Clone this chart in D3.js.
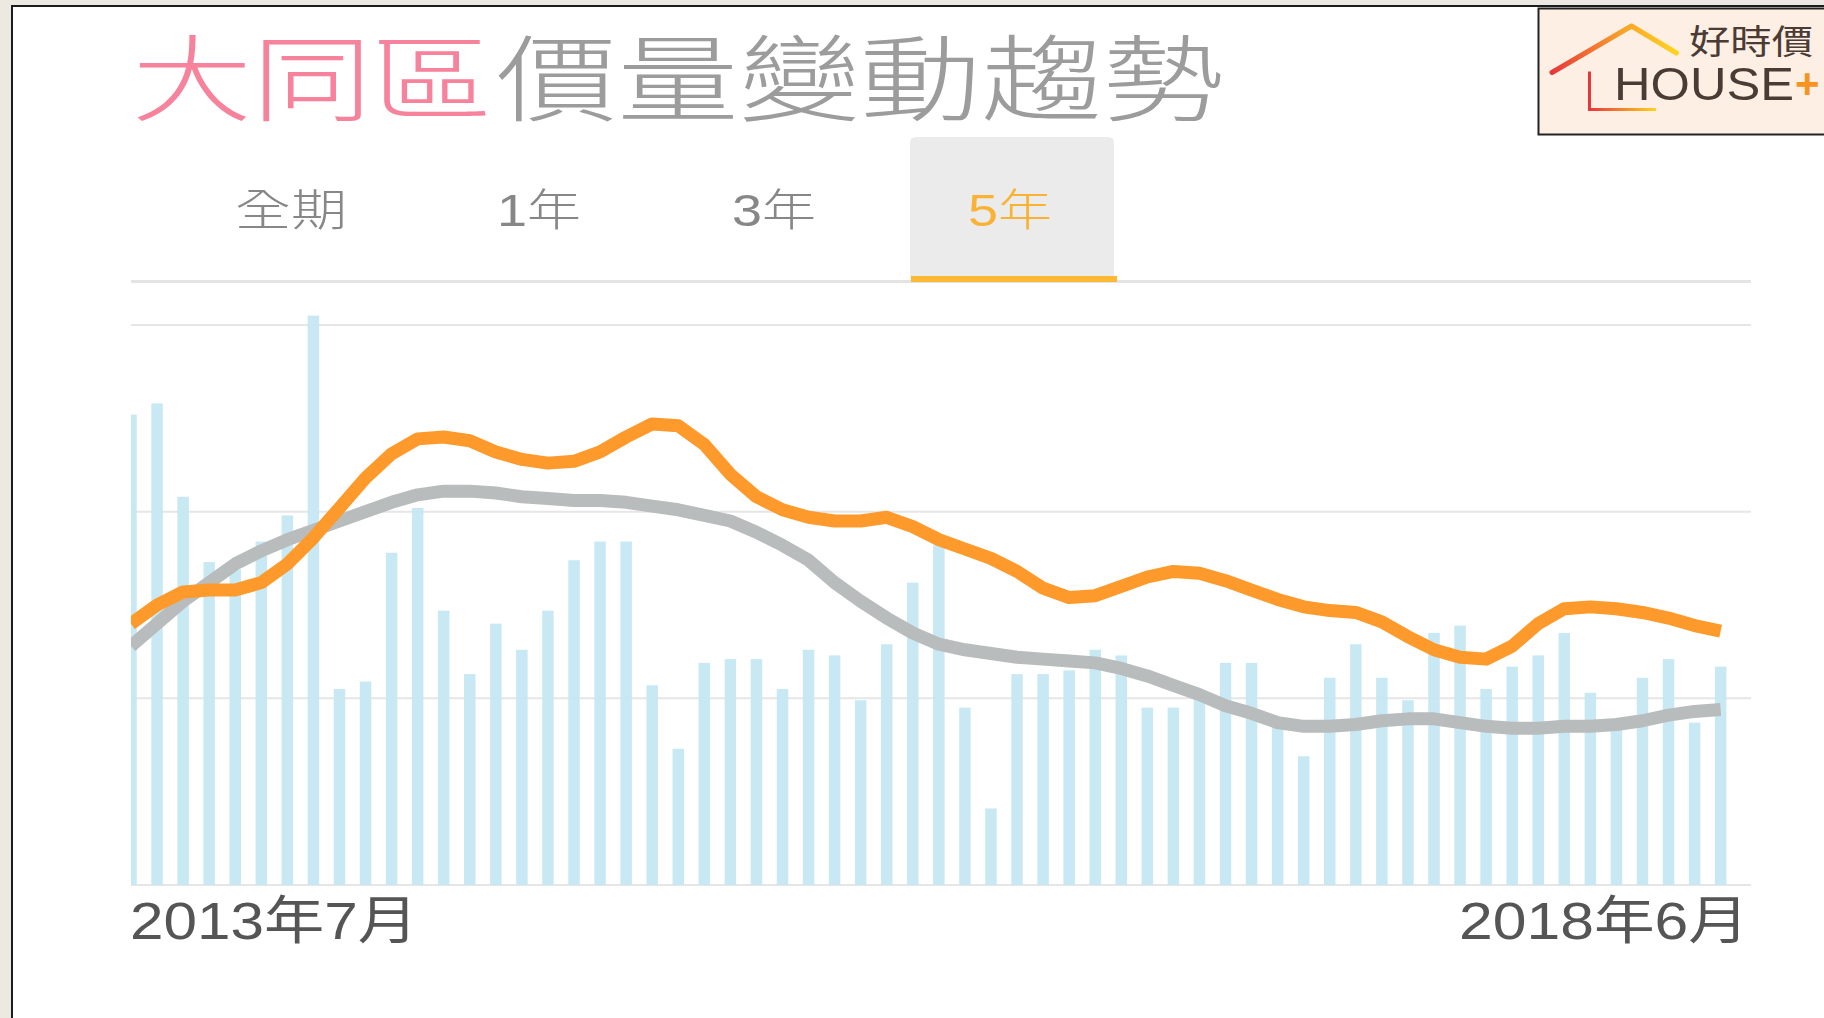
<!DOCTYPE html>
<html>
<head>
<meta charset="utf-8">
<script src="https://cdn.jsdelivr.net/npm/d3@7"></script>
<style>
  html, body { margin: 0; padding: 0; background: #fff; }
  svg { display: block; }
</style>
</head>
<body>
<div id="chart"></div>
<script>
// 大同區 價量變動趨勢 (5年)

const tabLabels = ['全期', '1年', '3年', '5年'];
const activeTab = '5年';
const tickLabels = ['2013年7月', '2018年6月'];

// monthly transaction count (bars)
const volume = [
  252, 258, 208, 173, 169, 184, 198, 305, 105, 109,
  178, 202, 147, 113, 140, 126, 147, 174, 184, 184,
  107, 73, 119, 121, 121, 105, 126, 123, 99, 129,
  162, 182, 95, 41, 113, 113, 115, 126, 123, 95,
  95, 100, 119, 119, 87, 69, 111, 129, 111, 99,
  135, 139, 105, 117, 123, 135, 103, 85, 111, 121,
  87, 117
];

// unit price, short average (orange)
const priceShort = [
  54.0, 55.0, 55.7, 55.8, 55.8, 56.2, 57.2, 58.6, 60.2, 61.8,
  63.1, 63.9, 64.0, 63.8, 63.2, 62.8, 62.6, 62.7, 63.2, 64.0,
  64.7, 64.6, 63.6, 62.0, 60.8, 60.1, 59.7, 59.5, 59.5, 59.7,
  59.2, 58.5, 58.0, 57.5, 56.8, 55.9, 55.4, 55.5, 56.0, 56.5,
  56.8, 56.7, 56.3, 55.8, 55.3, 54.9, 54.7, 54.6, 54.1, 53.3,
  52.6, 52.2, 52.1, 52.8, 54.0, 54.8, 54.9, 54.8, 54.6, 54.3,
  53.9, 53.6
];

// unit price, long average (gray)
const priceLong = [
  52.8, 54.0, 55.2, 56.2, 57.2, 57.9, 58.5, 59.0, 59.5, 60.0,
  60.5, 60.9, 61.1, 61.1, 61.0, 60.8, 60.7, 60.6, 60.6, 60.5,
  60.3, 60.1, 59.8, 59.5, 58.9, 58.2, 57.4, 56.2, 55.2, 54.3,
  53.5, 52.9, 52.6, 52.4, 52.2, 52.1, 52.0, 51.9, 51.6, 51.2,
  50.7, 50.2, 49.6, 49.2, 48.7, 48.5, 48.5, 48.6, 48.8, 48.9,
  48.9, 48.7, 48.5, 48.4, 48.4, 48.5, 48.5, 48.6, 48.8, 49.1,
  49.3, 49.4
];

const priceTicks = [40, 50, 60, 70];

const W = 1824, H = 1018;
const CJK = '"Noto Sans CJK TC", "Noto Sans CJK SC", sans-serif';
const LATIN = '"Liberation Sans", "Noto Sans CJK TC", sans-serif';

class TrendChart {
  constructor(node) {
    this.container = d3.select(node);
    this.setupVar();
    this.setupUtils();
  }

  setupVar() {
    this.left = 131;
    this.right = 1751;
    this.top = 325;
    this.bottom = 885;
    this.step = 26.06;
    this.barWidth = 11.5;
  }

  setupUtils() {
    this.x = d3.scaleLinear()
      .domain([0, volume.length - 1])
      .range([this.left, this.left + (volume.length - 1) * this.step]);
    this.yVol = d3.scaleLinear().domain([0, 300]).range([this.bottom, this.top]);
    this.yPrice = d3.scaleLinear().domain([40, 70]).range([this.bottom, this.top]);
  }

  drawFrame() {
    const svg = this.svg;
    svg.append('rect').attr('width', W).attr('height', H).attr('fill', '#fff');
    svg.append('rect').attr('width', W).attr('height', 6).attr('fill', '#ece9e2');
    svg.append('rect').attr('width', 11).attr('height', H).attr('fill', '#ece9e2');
    svg.append('rect').attr('x', 11).attr('y', 5).attr('width', W).attr('height', 2).attr('fill', '#1c1c1c');
    svg.append('rect').attr('x', 11).attr('y', 5).attr('width', 2).attr('height', H).attr('fill', '#1c1c1c');
  }

  drawTitle() {
    const svg = this.svg;
    svg.append('text')
      .attr('x', 132).attr('y', 114)
      .attr('font-family', CJK).attr('font-size', 94).attr('font-weight', 300)
      .attr('fill', '#f7829c')
      .attr('textLength', 360).attr('lengthAdjust', 'spacingAndGlyphs')
      .text('大同區');
    svg.append('text')
      .attr('x', 496).attr('y', 114)
      .attr('font-family', CJK).attr('font-size', 94).attr('font-weight', 300)
      .attr('fill', '#9c9c9c')
      .attr('textLength', 728).attr('lengthAdjust', 'spacingAndGlyphs')
      .text('價量變動趨勢');
  }

  drawTabs() {
    const svg = this.svg;
    // positions of each tab label (left edge, width)
    const tabX = [235, 497, 732, 968];
    const tabLen = [112, 84, 84, 84];

    svg.append('rect')
      .attr('x', 131).attr('y', 280).attr('width', this.right - 131).attr('height', 3)
      .attr('fill', '#e4e4e4');

    const i = tabLabels.indexOf(activeTab);
    svg.append('path')
      .attr('d', 'M910,279 V143 Q910,137 916,137 H1108 Q1114,137 1114,143 V279 Z')
      .attr('fill', '#ebebeb');
    svg.append('rect')
      .attr('x', 911).attr('y', 276).attr('width', 206).attr('height', 6)
      .attr('fill', '#fbb833');

    svg.selectAll('text.tab')
      .data(tabLabels)
      .enter().append('text')
      .attr('class', 'tab')
      .attr('x', (d, k) => tabX[k]).attr('y', 226)
      .attr('font-family', LATIN).attr('font-size', 44).attr('font-weight', 300)
      .attr('fill', (d, k) => k === i ? '#f9b234' : '#878787')
      .attr('textLength', (d, k) => tabLen[k]).attr('lengthAdjust', 'spacingAndGlyphs')
      .text(d => d);
  }

  drawLogo() {
    const svg = this.svg;
    const defs = svg.append('defs');
    const g1 = defs.append('linearGradient').attr('id', 'roofGrad')
      .attr('gradientUnits', 'userSpaceOnUse')
      .attr('x1', 1552).attr('x2', 1677).attr('y1', 0).attr('y2', 0);
    g1.append('stop').attr('offset', 0).attr('stop-color', '#e8363b');
    g1.append('stop').attr('offset', 0.55).attr('stop-color', '#f7a12a');
    g1.append('stop').attr('offset', 1).attr('stop-color', '#ffd51e');
    const g2 = defs.append('linearGradient').attr('id', 'floorGrad')
      .attr('gradientUnits', 'userSpaceOnUse')
      .attr('x1', 1589).attr('x2', 1657).attr('y1', 0).attr('y2', 0);
    g2.append('stop').attr('offset', 0).attr('stop-color', '#e8363b');
    g2.append('stop').attr('offset', 1).attr('stop-color', '#ffd51e');

    svg.append('rect')
      .attr('x', 1538.5).attr('y', 8.5).attr('width', 300).attr('height', 126)
      .attr('fill', '#fdefe4').attr('stroke', '#222').attr('stroke-width', 2);
    svg.append('path')
      .attr('d', 'M1552,72.5 L1631.5,26 L1676.5,53')
      .attr('fill', 'none').attr('stroke', 'url(#roofGrad)')
      .attr('stroke-width', 5).attr('stroke-linecap', 'round').attr('stroke-linejoin', 'round');
    svg.append('path')
      .attr('d', 'M1589.5,71.5 V109.5 H1656')
      .attr('fill', 'none').attr('stroke', 'url(#floorGrad)').attr('stroke-width', 3);

    svg.append('text')
      .attr('x', 1689).attr('y', 54)
      .attr('font-family', CJK).attr('font-size', 34).attr('fill', '#4b3b35')
      .attr('textLength', 124).attr('lengthAdjust', 'spacingAndGlyphs')
      .text('好時價');
    svg.append('text')
      .attr('x', 1614).attr('y', 100)
      .attr('font-family', LATIN)
      .attr('font-size', 46).attr('fill', '#4b3b35')
      .attr('textLength', 180).attr('lengthAdjust', 'spacingAndGlyphs')
      .text('HOUSE');
    svg.append('text')
      .attr('x', 1795).attr('y', 98)
      .attr('font-family', LATIN).attr('font-weight', 'bold')
      .attr('font-size', 42).attr('fill', '#f7931e')
      .text('+');
  }

  drawGraph() {
    this.svg = this.container.append('svg')
      .attr('width', W).attr('height', H);

    this.drawFrame();
    this.drawTitle();
    this.drawTabs();

    const svg = this.svg;
    svg.append('clipPath').attr('id', 'plotClip')
      .append('rect')
      .attr('x', this.left).attr('y', 0)
      .attr('width', this.right - this.left).attr('height', H);

    // grid lines
    svg.append('g').attr('class', 'grid')
      .selectAll('line')
      .data(priceTicks)
      .enter().append('line')
      .attr('x1', this.left).attr('x2', this.right)
      .attr('y1', d => this.yPrice(d)).attr('y2', d => this.yPrice(d))
      .attr('stroke', '#e6e6e6').attr('stroke-width', 2);

    const plots = svg.append('g').attr('class', 'plots').attr('clip-path', 'url(#plotClip)');

    plots.selectAll('rect.bar')
      .data(volume)
      .enter().append('rect')
      .attr('class', 'bar')
      .attr('x', (d, i) => this.x(i) - this.barWidth / 2)
      .attr('y', d => this.yVol(d))
      .attr('width', this.barWidth)
      .attr('height', d => this.bottom - this.yVol(d))
      .attr('fill', '#c5e8f2')
      .attr('fill-opacity', 0.95);

    const line = d3.line()
      .x((d, i) => this.x(i))
      .y(d => this.yPrice(d));

    plots.append('path')
      .datum(priceLong)
      .attr('d', line)
      .attr('fill', 'none').attr('stroke', '#b9bcbc')
      .attr('stroke-width', 13).attr('stroke-linejoin', 'round');

    plots.append('path')
      .datum(priceShort)
      .attr('d', line)
      .attr('fill', 'none').attr('stroke', '#fd9a2b')
      .attr('stroke-width', 13).attr('stroke-linejoin', 'round');

    // first / last month labels
    svg.append('text')
      .attr('x', 130).attr('y', 939)
      .attr('font-family', LATIN).attr('font-size', 52).attr('fill', '#555')
      .attr('textLength', 288).attr('lengthAdjust', 'spacingAndGlyphs')
      .text(tickLabels[0]);
    svg.append('text')
      .attr('x', 1459).attr('y', 939)
      .attr('font-family', LATIN).attr('font-size', 52).attr('fill', '#555')
      .attr('textLength', 290).attr('lengthAdjust', 'spacingAndGlyphs')
      .text(tickLabels[1]);

    this.drawLogo();
  }
}

const chart = new TrendChart(document.getElementById('chart'));
chart.drawGraph();
</script>
</body>
</html>
